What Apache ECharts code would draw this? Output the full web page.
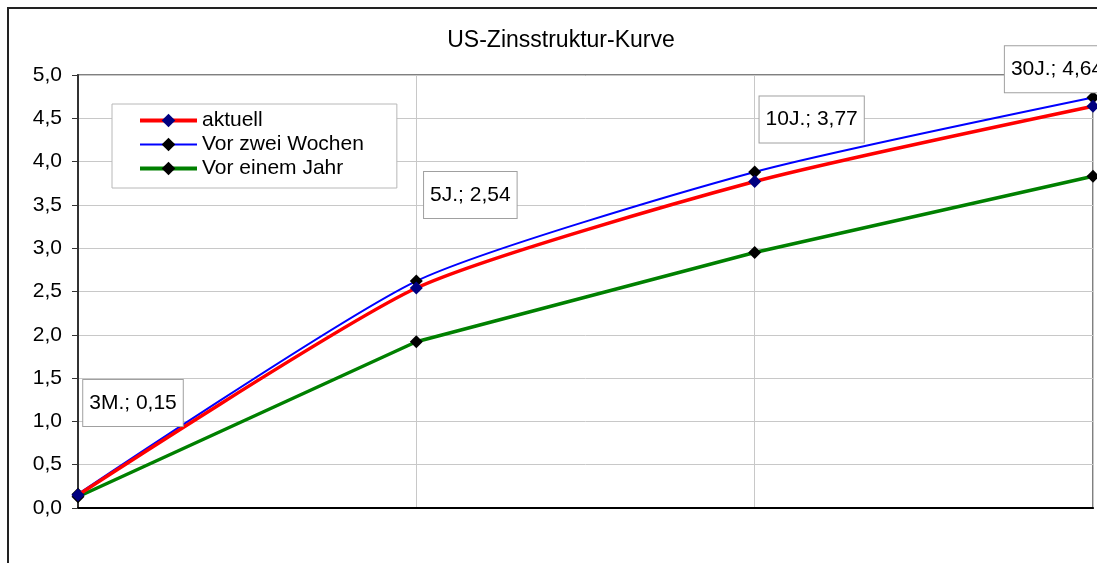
<!DOCTYPE html>
<html>
<head>
<meta charset="utf-8">
<script src="https://cdn.jsdelivr.net/npm/echarts@6/dist/echarts.min.js"></script>
<style>
	html, body { margin: 0; padding: 0; background: #fff; }
	#chart { width: 1097px; height: 563px; }
</style>
</head>
<body>
<div id="chart"></div>
<script>
// Laufzeiten (x-Achse) und Renditen in %
const laufzeiten = ['3M', '5J', '10J', '30J'];
const aktuell = [0.15, 2.54, 3.77, 4.64];
const vorZweiWochen = [0.16, 2.62, 3.88, 4.74];
const vorEinemJahr = [0.13, 1.92, 2.95, 3.83];
const yTicks = { min: 0, max: 5, interval: 0.5 };

// Verschiebung der Datenbeschriftungen gegenüber dem Punkt
const labelOffsets = [[55, -92], [54, -93], [57, -62], [-36, -37]];

const font = '"Liberation Sans", Arial, sans-serif';
const komma = (v, d) => v.toFixed(d).replace('.', ',');

let myChart = echarts.init(document.getElementById('chart'), null, { renderer: 'canvas' });

let option = {
	animation: false,
	backgroundColor: '#fff',
	textStyle: { fontFamily: font },
	title: {
		text: 'US-Zinsstruktur-Kurve',
		left: 556,
		top: 24,
		textAlign: 'center',
		textStyle: { fontFamily: font, fontSize: 23, fontWeight: 'normal', color: '#000' }
	},
	graphic: [{
		type: 'rect',
		shape: { x: 8, y: 8, width: 1300, height: 800 },
		style: { fill: 'none', stroke: '#222', lineWidth: 2 },
		silent: true,
		z: -1
	}],
	legend: {
		orient: 'vertical',
		left: 112,
		top: 104,
		itemWidth: 57,
		itemHeight: 17,
		itemGap: 3,
		padding: [6, 33, 9, 26],
		backgroundColor: '#fff',
		borderColor: '#b8b8b8',
		borderWidth: 1,
		textStyle: { fontFamily: font, fontSize: 21, color: '#000', lineHeight: 21 },
		data: [
			{ name: 'aktuell', lineStyle: { width: 4 } },
			{ name: 'Vor zwei Wochen', lineStyle: { width: 2 } },
			{ name: 'Vor einem Jahr', lineStyle: { width: 4 } }
		]
	},
	grid: {
		left: 78,
		top: 75,
		right: 4,
		bottom: 55,
		show: true,
		borderColor: '#808080',
		borderWidth: 2,
		containLabel: false
	},
	xAxis: {
		type: 'category',
		data: laufzeiten,
		boundaryGap: false,
		axisLine: { lineStyle: { color: '#000', width: 2 } },
		axisTick: { show: false },
		axisLabel: { show: false },
		splitLine: { show: true, lineStyle: { color: '#c8c8c8', width: 1 } }
	},
	yAxis: {
		type: 'value',
		min: yTicks.min,
		max: yTicks.max,
		interval: yTicks.interval,
		axisLine: { show: true, lineStyle: { color: '#333', width: 2 } },
		axisTick: { show: true, length: 6, lineStyle: { color: '#333', width: 1 } },
		axisLabel: {
			margin: 16,
			fontFamily: font,
			fontSize: 21,
			color: '#000',
			formatter: v => komma(v, 1)
		},
		splitLine: { show: true, lineStyle: { color: '#c8c8c8', width: 1 } }
	},
	series: [
		{
			name: 'aktuell',
			type: 'line',
			smooth: 0.2,
			symbol: 'diamond',
			symbolSize: 13,
			lineStyle: { color: '#ff0000', width: 3.5 },
			itemStyle: { color: '#000080' },
			data: aktuell.map((v, i) => ({
				value: v,
				label: { offset: labelOffsets[i] }
			})),
			label: {
				show: true,
				position: 'inside',
				fontFamily: font,
				fontSize: 21,
				lineHeight: 22,
				color: '#000',
				backgroundColor: '#fff',
				borderColor: '#a0a0a0',
				borderWidth: 1,
				padding: [12, 6, 12, 6],
				formatter: p => p.name + '.; ' + komma(p.value, 2)
			},
			z: 3
		},
		{
			name: 'Vor zwei Wochen',
			type: 'line',
			smooth: 0.2,
			symbol: 'diamond',
			symbolSize: 13,
			lineStyle: { color: '#0000ff', width: 2 },
			itemStyle: { color: '#000' },
			data: vorZweiWochen,
			z: 2
		},
		{
			name: 'Vor einem Jahr',
			type: 'line',
			smooth: false,
			symbol: 'diamond',
			symbolSize: 13,
			lineStyle: { color: '#008000', width: 3.5 },
			itemStyle: { color: '#000' },
			data: vorEinemJahr,
			z: 2
		}
	]
};

option && myChart.setOption(option);
</script>
</body>
</html>
